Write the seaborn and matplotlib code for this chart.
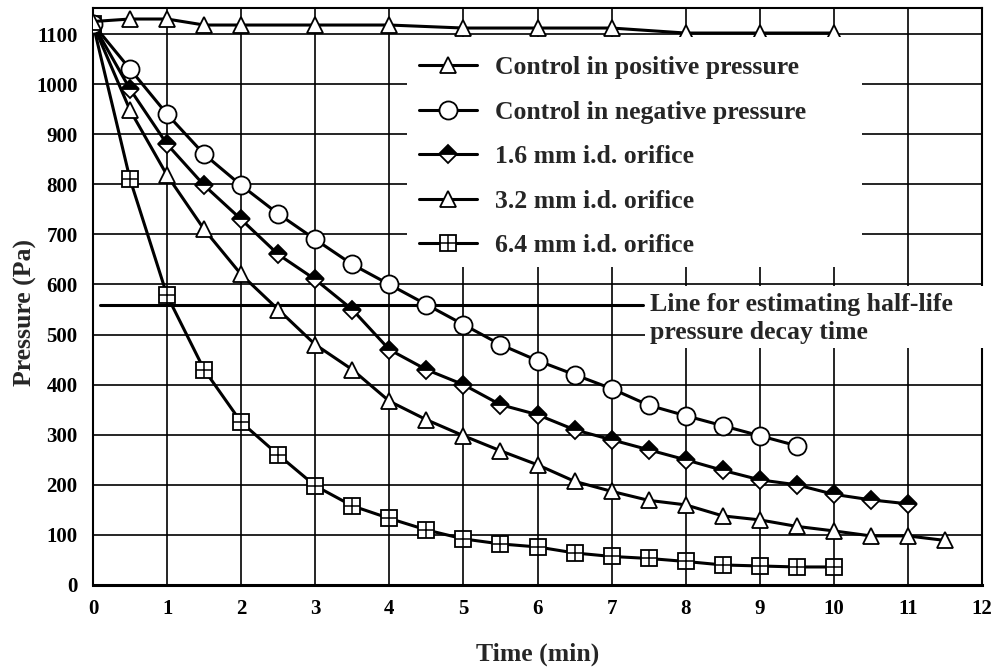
import matplotlib
matplotlib.use("Agg")
import matplotlib.pyplot as plt
import seaborn as sns
from matplotlib.patches import Rectangle
from matplotlib.ticker import MultipleLocator
from matplotlib.legend_handler import HandlerTuple

# ── data ─────────────────────────────────────────────────────────────────────
t_pos = [0, 0.5, 1, 1.5, 2, 3, 4, 5, 6, 7, 8, 9, 10]
p_pos = [1125, 1130, 1130, 1118, 1118, 1118, 1118, 1112, 1112, 1112, 1102, 1102, 1102]

t_neg = [0, 0.5, 1, 1.5, 2, 2.5, 3, 3.5, 4, 4.5, 5, 5.5, 6, 6.5, 7, 7.5, 8, 8.5, 9, 9.5]
p_neg = [1120, 1030, 940, 860, 798, 741, 690, 640, 600, 560, 520, 480, 448, 420, 392,
         359, 338, 318, 298, 278]

t_16 = [0, 0.5, 1, 1.5, 2, 2.5, 3, 3.5, 4, 4.5, 5, 5.5, 6, 6.5, 7, 7.5, 8, 8.5, 9, 9.5,
        10, 10.5, 11]
p_16 = [1120, 990, 880, 798, 730, 660, 610, 550, 470, 430, 400, 360, 340, 310, 290, 270,
        250, 229, 210, 200, 181, 170, 162]

t_32 = [0, 0.5, 1, 1.5, 2, 2.5, 3, 3.5, 4, 4.5, 5, 5.5, 6, 6.5, 7, 7.5, 8, 8.5, 9, 9.5,
        10, 10.5, 11, 11.5]
p_32 = [1120, 948, 818, 710, 620, 550, 480, 430, 367, 330, 298, 268, 240, 207, 187, 169,
        160, 138, 130, 117, 108, 98, 98, 89]

t_64 = [0, 0.5, 1, 1.5, 2, 2.5, 3, 3.5, 4, 4.5, 5, 5.5, 6, 6.5, 7, 7.5, 8, 8.5, 9, 9.5, 10]
p_64 = [1120, 810, 578, 430, 325, 260, 198, 158, 133, 110, 92, 82, 76, 64, 57, 53, 47,
        40, 38, 36, 36]

labels = ["Control in positive pressure", "Control in negative pressure",
          "1.6 mm i.d. orifice", "3.2 mm i.d. orifice", "6.4 mm i.d. orifice"]

half_life_p = 560
half_life_text = "Line for estimating half-life\npressure decay time"

x_ticks = list(range(0, 13))
y_ticks = list(range(0, 1101, 100))

# ── style ────────────────────────────────────────────────────────────────────
sns.set_style("white")
plt.rcParams["font.family"] = ["Liberation Serif", "DejaVu Serif"]
plt.rcParams["font.weight"] = "bold"

fig = plt.figure(figsize=(9.92, 6.68), dpi=100)
ax = fig.add_axes([93 / 992, 83 / 668, 889 / 992, 577 / 668])

LW = 2.2
common = dict(color="black", lw=LW, mec="black", mew=1.3, legend=False, ax=ax)

# 6.4 mm: white squares with a cross inside
sns.lineplot(x=t_64, y=p_64, marker="s", ms=12, mfc="white", zorder=4.0, **common)
l_64 = ax.lines[-1]
l_64p, = ax.plot(t_64, p_64, ls="none", marker="+", ms=12, mec="black", mew=1.1,
                 zorder=4.05)
sns.lineplot(x=t_32, y=p_32, marker="^", ms=12.2, mfc="white", zorder=4.1, **common)
l_32 = ax.lines[-1]
sns.lineplot(x=t_16, y=p_16, marker="D", ms=8.7, mfc="black", fillstyle="top",
             markerfacecoloralt="white", zorder=4.2, **common)
l_16 = ax.lines[-1]
sns.lineplot(x=t_neg, y=p_neg, marker="o", ms=13, mfc="white", zorder=4.3, **common)
l_neg = ax.lines[-1]
sns.lineplot(x=t_pos, y=p_pos, marker="^", ms=12.2, mfc="white", zorder=4.4, **common)
l_pos = ax.lines[-1]

# half-life line
ax.plot([0.1, 7.42], [half_life_p, half_life_p], color="black", lw=LW, zorder=3)

# ── axes ─────────────────────────────────────────────────────────────────────
ax.set_xlim(0, 12)
ax.set_ylim(0, 1152)
ax.set_xticks(x_ticks)
ax.set_yticks(y_ticks)
ax.xaxis.set_minor_locator(MultipleLocator(0.5))
ax.yaxis.set_minor_locator(MultipleLocator(25))
ax.tick_params(axis="both", which="major", direction="out", length=6, width=1.3,
               labelsize=15, colors="black", pad=4)
ax.tick_params(axis="x", which="minor", direction="out", length=3, width=1.2)
ax.tick_params(axis="y", which="minor", direction="in", length=4, width=1.2)
ax.tick_params(axis="y", which="major", pad=5)
for lab in ax.get_xticklabels() + ax.get_yticklabels():
    lab.set_fontweight("bold")

ax.grid(True, which="major", color="black", lw=1.2, zorder=1)
ax.set_axisbelow(True)
for s in ax.spines.values():
    s.set_color("black")
    s.set_linewidth(1.5)
ax.spines["bottom"].set_linewidth(2.2)

ax.set_xlabel("Time (min)", fontsize=18.5, fontweight="bold")
ax.set_ylabel("Pressure (Pa)", fontsize=18.5, fontweight="bold")
ax.xaxis.set_label_coords(0.5, -0.1)
ax.yaxis.set_label_coords(-0.063, 0.473)

# white box behind the legend
ax.add_patch(Rectangle((4.24, 634), 10.38 - 4.24, 1095 - 634, facecolor="white",
                       edgecolor="none", zorder=5))

leg = ax.legend([l_pos, l_neg, l_16, l_32, (l_64, l_64p)], labels,
                handler_map={tuple: HandlerTuple(ndivide=1, pad=0)},
                loc="upper left", bbox_to_anchor=(419 / 992, 1 - 56 / 668),
                bbox_transform=fig.transFigure, frameon=False, borderpad=0,
                borderaxespad=0, handlelength=2.25, handletextpad=0.7,
                labelspacing=0.84, prop={"weight": "bold", "size": 18.5})
leg.set_zorder(6)

# white box + text for the half-life line
ax.add_patch(Rectangle((7.45, 474), 12.2 - 7.45, 596 - 474, facecolor="white",
                       edgecolor="none", zorder=5, clip_on=False))
ax.text(7.52, 532, half_life_text, fontsize=18.5, fontweight="bold", ha="left",
        va="center", linespacing=1.3, zorder=6)

fig.savefig("out.png", dpi=100)
